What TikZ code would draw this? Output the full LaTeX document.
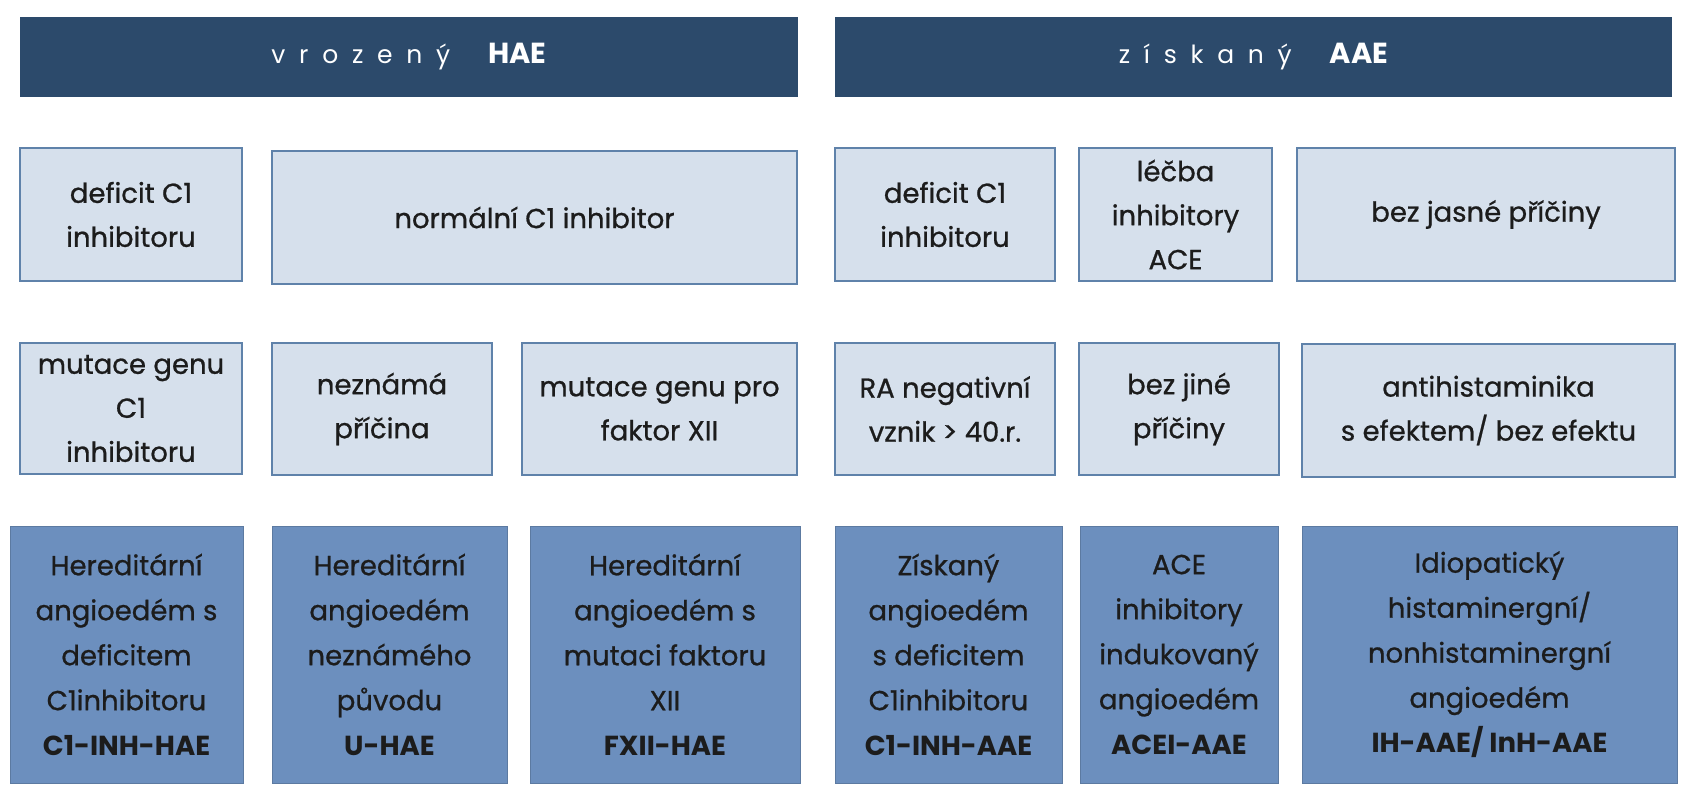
\documentclass[tikz,border=0pt]{standalone}
\usepackage{fontspec}
\setmainfont{Poppins}[UprightFeatures={FakeBold=0.8}]
\newfontfamily\spacedfont[LetterSpace=55]{Poppins}
\newfontfamily\hdrbold{Poppins Bold}
\definecolor{hdr}{HTML}{2C4A6B}
\definecolor{lightfill}{HTML}{D6E0EC}
\definecolor{lightedge}{HTML}{5F82AA}
\definecolor{darkfill}{HTML}{6C8FBE}
\definecolor{txt}{HTML}{1C1C1C}
\tikzset{
  hdrbox/.style={fill=hdr, draw=none, text=white, font=\fontsize{25}{30}\selectfont},
  lightbox/.style={fill=lightfill, draw=lightedge, line width=2.8pt, text=txt, align=center, font=\fontsize{27.5}{44}\selectfont},
  darkbox/.style={fill=darkfill, draw=darkfill!85!black, line width=1pt, text=txt, align=center, font=\fontsize{27.5}{45}\selectfont},
}
\newcommand\cell[7]{\node[#6, inner sep=0pt, minimum width={(#4-#2)*1pt}, minimum height={(#5-#3)*1pt}] (#1) at ({(#2+#4)/2},{(#3+#5)/2}) {#7};}
\begin{document}
\begin{tikzpicture}[x=1pt,y=-1pt]
\useasboundingbox[fill=white] (0,0) rectangle (1702,800);
% headers
\cell{hl}{20}{17}{798}{97}{hdrbox}{{\spacedfont vrozený}\hspace{38pt}{\hdrbold\fontsize{29}{30}\selectfont HAE}}
\cell{hr}{835}{17}{1672}{97}{hdrbox}{{\spacedfont získaný}\hspace{38pt}{\hdrbold\fontsize{29}{30}\selectfont AAE}}
% row 2
\cell{a1}{20}{148}{242}{281}{lightbox}{deficit C1\\inhibitoru}
\cell{a2}{272}{151}{797}{284}{lightbox}{normální C1 inhibitor}
\cell{a3}{835}{148}{1055}{281}{lightbox}{deficit C1\\inhibitoru}
\cell{a4}{1079}{148}{1272}{281}{lightbox}{léčba\\inhibitory\\ACE}
\cell{a5}{1297}{148}{1675}{281}{lightbox}{bez jasné příčiny}
% row 3
\cell{b1}{20}{343}{242}{474}{lightbox}{mutace genu\\C1\\inhibitoru}
\cell{b2}{272}{343}{492}{475}{lightbox}{neznámá\\příčina}
\cell{b3}{522}{343}{797}{475}{lightbox}{mutace genu pro\\faktor XII}
\cell{b4}{835}{343}{1055}{475}{lightbox}{RA negativní\\vznik > 40.r.}
\cell{b5}{1079}{343}{1279}{475}{lightbox}{bez jiné\\příčiny}
\cell{b6}{1302}{344}{1675}{477}{lightbox}{antihistaminika\\s efektem/ bez efektu}
% row 4
\cell{c1}{10}{526}{243}{783}{darkbox}{Hereditární\\angioedém s\\deficitem\\C1inhibitoru\\\textbf{C1-INH-HAE}}
\cell{c2}{272}{526}{507}{783}{darkbox}{Hereditární\\angioedém\\neznámého\\původu\\\textbf{U-HAE}}
\cell{c3}{530}{526}{800}{783}{darkbox}{Hereditární\\angioedém s\\mutaci faktoru\\XII\\\textbf{FXII-HAE}}
\cell{c4}{835}{526}{1062}{783}{darkbox}{Získaný\\angioedém\\s deficitem\\C1inhibitoru\\\textbf{C1-INH-AAE}}
\cell{c5}{1080}{526}{1278}{783}{darkbox}{ACE\\inhibitory\\indukovaný\\angioedém\\\textbf{ACEI-AAE}}
\cell{c6}{1302}{526}{1677}{783}{darkbox}{Idiopatický\\histaminergní/\\nonhistaminergní\\angioedém\\\textbf{IH-AAE/ InH-AAE}}
\end{tikzpicture}
\end{document}
